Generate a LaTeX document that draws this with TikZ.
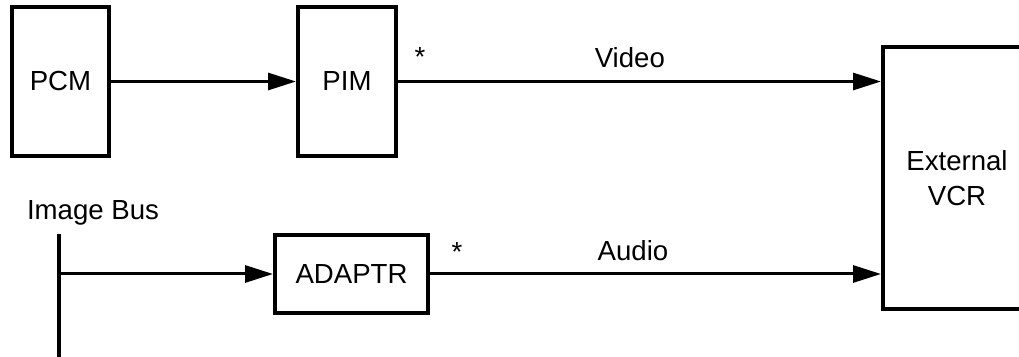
\documentclass[tikz,border=0pt]{standalone}
\usepackage{fontspec}
\setmainfont{Liberation Sans}
\usetikzlibrary{positioning, arrows.meta}

\begin{document}
\begin{tikzpicture}[x=0.5pt, y=-0.5pt,
    every node/.style={font=\fontsize{13.8}{17.5}\selectfont},
    blk/.style={draw, line width=2pt, inner sep=0pt},
    lbl/.style={inner sep=0pt},
    wire/.style={line width=1.5pt},
    arr/.style={wire, -{Triangle[length=14pt, width=8.5pt]}}]
    \useasboundingbox (0,0) rectangle (1019,357);
    \clip (0,0) rectangle (1019,357);
    \node[blk, minimum width=48.5pt, minimum height=74.5pt] (pcm) at (60.5,81.5) {PCM};
    \node[blk, minimum width=49pt, minimum height=74.5pt] (pim) at (347,81.5) {PIM};
    \node[blk, minimum width=76.5pt, minimum height=39pt] (adaptr) at (351.5,274) {ADAPTR};
    \node[blk, minimum width=74pt, minimum height=131pt, align=center] (vcr) at (957,178) {External\\VCR};
    % image bus
    \node (buslbl) at (93,213) {Image Bus};
    \coordinate (bustop) at (59,234);
    \coordinate (busbot) at (59,357);
    \coordinate (tap) at (59,274);
    \draw[line width=2pt] (bustop) -- (busbot);
    % connections
    \draw[arr] (pcm) -- (pim);
    \draw[arr] (tap) -- (adaptr);
    \draw[arr] (pim.east) -- node[lbl, above=6pt, pos=0.48] {Video} (pim.east -| vcr.west);
    \draw[arr] (adaptr.east) -- node[lbl, above=6pt, pos=0.45] {Audio} (adaptr.east -| vcr.west);
    \node (st1) at (420,57) {*};
    \node (st2) at (457,252) {*};
\end{tikzpicture}
\end{document}
